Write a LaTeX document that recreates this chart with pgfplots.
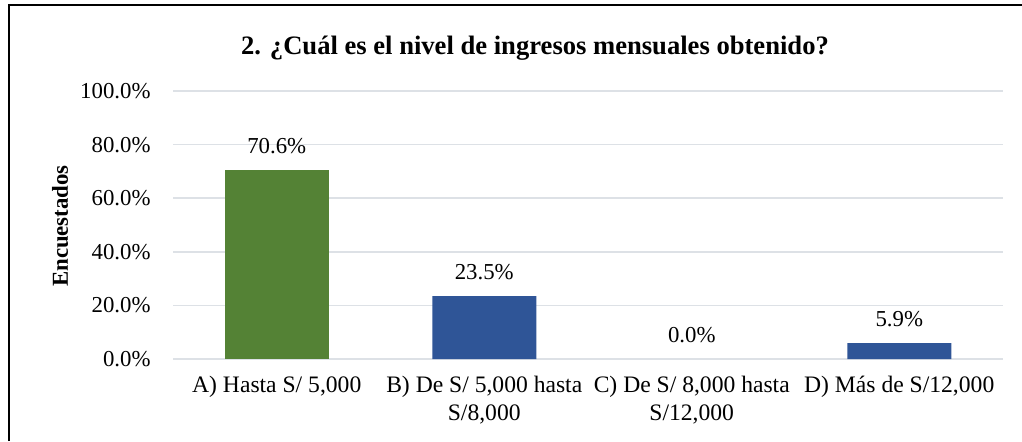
\documentclass[border=0pt]{standalone}
\usepackage{pgfplots}
\pgfplotsset{compat=1.18}
\usepackage{fontspec}
\setmainfont{Liberation Serif}
\definecolor{bargreen}{HTML}{548235}
\definecolor{barblue}{HTML}{2F5597}
\definecolor{gridgray}{HTML}{DDE1E6}
\begin{document}
\begin{tikzpicture}[x=0.5pt,y=0.5pt]
\useasboundingbox (0,0) rectangle (1022,441);
% frame (only left and top edges are visible in the crop)
\draw[line width=1pt] (9,0) -- (9,436) -- (1022,436);
\node[font=\bfseries\fontsize{13.3}{15}\selectfont] at (535,393) {2. ¿Cuál es el nivel de ingresos mensuales obtenido?};
\node[font=\bfseries\fontsize{11.4}{13}\selectfont, rotate=90] at (60,215) {Encuestados};
\begin{axis}[
  at={(86.5pt,41pt)}, anchor=south west,
  width=415pt, height=134pt, scale only axis,
  xmin=-0.5, xmax=3.5, ymin=0, ymax=100,
  axis line style={draw=none},
  major tick length=0pt,
  ymajorgrids, grid style={gridgray, line width=0.8pt},
  ytick={0,20,40,60,80,100},
  /pgf/number format/assume math mode=true,
  yticklabel={\pgfmathprintnumber[fixed,fixed zerofill,precision=1]{\tick}\%},
  yticklabel style={xshift=-7.7pt, font=\fontsize{11.4}{12.6}\selectfont},
  xtick={0,1,2,3},
  xticklabels={{A) Hasta S/ 5,000},{B) De S/ 5,000 hasta\\S/8,000},{C) De S/ 8,000 hasta\\S/12,000},{D) Más de S/12,000}},
  xticklabel style={align=center, yshift=-5pt, font=\fontsize{11.8}{14}\selectfont},
  nodes near coords={\pgfmathprintnumber[fixed,fixed zerofill,precision=1]{\pgfplotspointmeta}\%},
  every node near coord/.append style={font=\fontsize{11.4}{13}\selectfont, black, yshift=4.5pt},
]
\addplot[ybar, bar shift=0pt, bar width=52pt, fill=bargreen, draw=none] coordinates {(0,70.6)};
\addplot[ybar, bar shift=0pt, bar width=52pt, fill=barblue, draw=none] coordinates {(1,23.5) (3,5.9)};
\addplot[ybar, bar shift=0pt, bar width=52pt, fill=none, draw=none] coordinates {(2,0)};
\end{axis}
\end{tikzpicture}
\end{document}
